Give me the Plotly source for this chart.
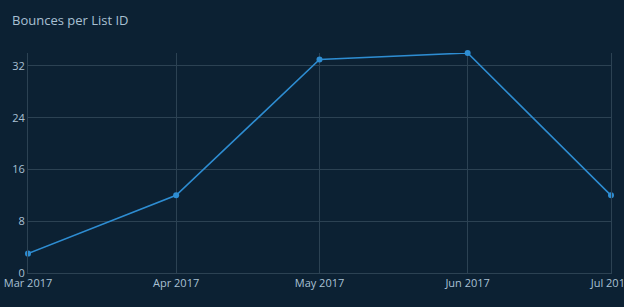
import plotly.graph_objects as go

dates = ["2017-03-01", "2017-04-01", "2017-05-01", "2017-06-01", "2017-07-01"]
bounces = [3, 12, 33, 34, 12]
y_ticks = [0, 8, 16, 24, 32]

bg = "#0c2133"
grid = "#2c4253"
font_col = "#a9c0d3"

fig = go.Figure()
fig.add_trace(go.Scatter(
    x=dates, y=bounces, mode="lines+markers",
    line=dict(color="#2e8dd2", width=1.6),
    marker=dict(color="#2e8dd2", size=6),
    cliponaxis=False,
    hoverinfo="x+y", showlegend=False,
))
fig.update_layout(
    width=624, height=307,
    paper_bgcolor=bg, plot_bgcolor=bg,
    margin=dict(l=28, r=13, t=53, b=34),
    font=dict(family="Open Sans", color=font_col, size=11),
    title=dict(text="Bounces per List ID", x=12 / 624, xanchor="left", xref="container",
               y=0.935, yanchor="middle",
               font=dict(size=13, color=font_col)),
)
fig.update_xaxes(
    type="date", range=[dates[0], dates[-1]],
    tickvals=dates, tickformat="%b %Y",
    showgrid=True, gridcolor=grid, gridwidth=1,
    zeroline=False, showline=True, linecolor=grid, mirror=False,
    tickfont=dict(size=11, color=font_col), ticks="",
    automargin=False, ticklabeloverflow="allow",
)
fig.update_yaxes(
    range=[0, 34], tickvals=y_ticks,
    showgrid=True, gridcolor=grid, gridwidth=1,
    zeroline=False, showline=True, linecolor=grid, mirror=True,
    tickfont=dict(size=11, color=font_col), ticks="",
    automargin=False,
)
fig.write_html("out.html")
